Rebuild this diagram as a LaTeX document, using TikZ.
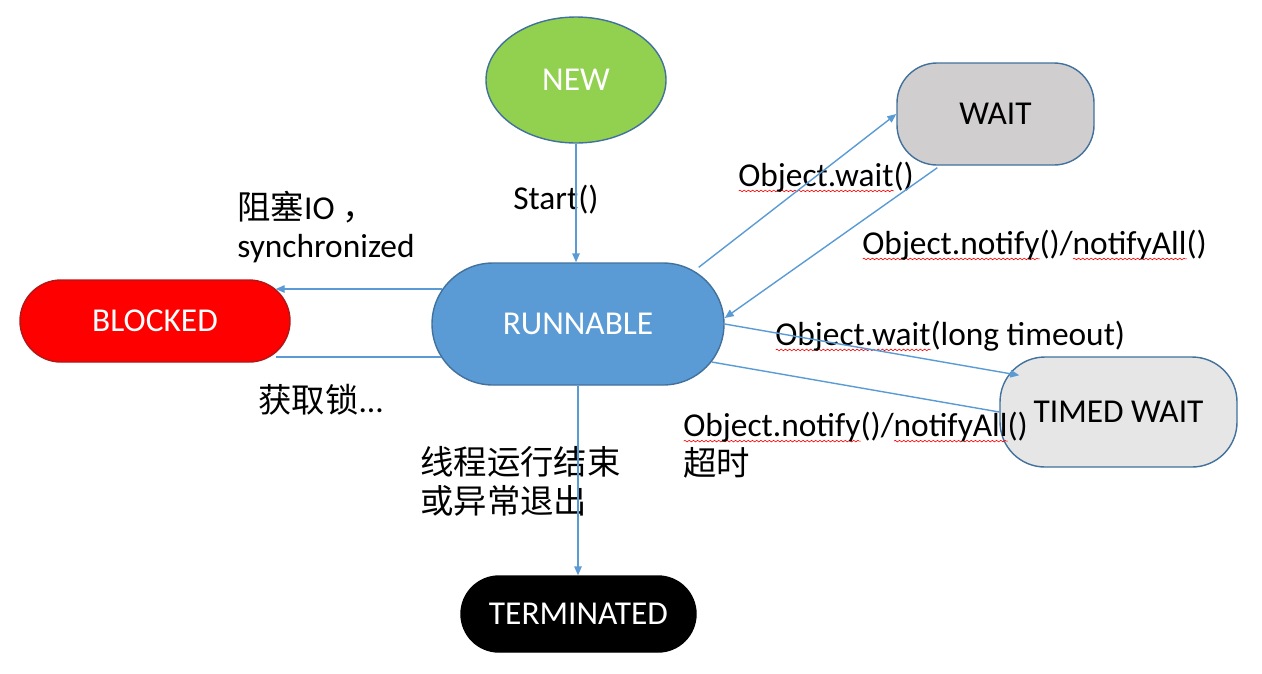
\documentclass[tikz,border=0pt]{standalone}
\usepackage{fontspec}
\setmainfont{Carlito}
\newfontfamily\cjk{Noto Sans CJK SC}
\usepackage{tikz}
\usetikzlibrary{arrows.meta,shapes.geometric,decorations.pathmorphing}

\definecolor{runblue}{HTML}{5B9BD5}
\definecolor{edgeblue}{HTML}{41719C}
\definecolor{newgreen}{HTML}{92D050}
\definecolor{waitgray}{HTML}{D0CECE}
\definecolor{timedgray}{HTML}{E7E6E6}
\definecolor{blockred}{HTML}{FF0000}
\definecolor{darkred}{HTML}{B01818}

\newsavebox\wavebox
\newcommand\spellwave[1]{\sbox\wavebox{#1}\rlap{\tikz[baseline=0pt]\draw[red,line width=0.35pt,decorate,decoration={snake,amplitude=0.45pt,segment length=2.4pt}] (0pt,-2.6pt) -- (\wd\wavebox,-2.6pt);}\usebox\wavebox}

\tikzset{
    threadstate/.style={draw=edgeblue,line width=0.8pt,inner sep=0pt,font=\fontsize{19}{23}\selectfont},
    trans/.style={draw=runblue,line width=0.8pt,-{Triangle[length=1.8mm,width=1.5mm]}},
    link/.style={draw=runblue,line width=0.8pt},
    lbl/.style={font=\fontsize{19}{22}\selectfont,align=left,inner sep=0pt,anchor=west}
}

\begin{document}
\begin{tikzpicture}[x=0.2mm,y=-0.2mm]
    \useasboundingbox (0,0) rectangle (1262,673);

    \node[threadstate,ellipse,fill=newgreen,text=white,minimum width=36mm,minimum height=25.2mm] (new) at (576,80) {NEW};
    \node[threadstate,fill=waitgray,rounded corners=8mm,minimum width=39.4mm,minimum height=20.4mm] (wait) at (995.5,114) {WAIT};
    \node[threadstate,fill=runblue,text=white,rounded corners=12.2mm,minimum width=58.4mm,minimum height=24.4mm] (run) at (578,324) {RUNNABLE};
    \node[threadstate,draw=darkred,fill=blockred,text=white,rounded corners=8.2mm,minimum width=54mm,minimum height=16.4mm] (blk) at (155,321) {BLOCKED};
    \node[threadstate,fill=timedgray,rounded corners=9mm,minimum width=47.4mm,minimum height=22mm] (tw) at (1118.5,412) {TIMED WAIT};
    \node[threadstate,draw=black,fill=black,text=white,rounded corners=7.6mm,minimum width=47mm,minimum height=15.2mm] (term) at (578.5,614) {TERMINATED};

    \node[lbl] (startlbl) at (513,200) {Start()};
    \node[lbl] (blocklbl) at (237,227) {{\cjk 阻塞}IO {\cjk ，}\\synchronized};
    \node[lbl] (locklbl) at (258,400) {{\cjk 获取锁}...};
    \node[lbl] (endlbl) at (420,481) {{\cjk 线程运行结束}\\{\cjk 或异常退出}};
    \node[lbl] (waitlbl) at (738,177) {\spellwave{Object.wait}()};
    \node[lbl] (notifylbl) at (862,245) {\spellwave{Object.notify}()/\spellwave{notifyAll}()};
    \node[lbl] (timedlbl) at (775,336) {\spellwave{Object.wait}(long timeout)};
    \node[lbl] (backlbl) at (683,445) {\spellwave{Object.notify}()/\spellwave{notifyAll}()\\{\cjk 超时}};

    \draw[trans] (new.south) -- (new.south |- run.north);
    \draw[trans] ([shift={(11,-35)}]run.west) -- ([shift={(-15,-32)}]blk.east);
    \draw[link] ([shift={(-15,36)}]blk.east) -- ([shift={(10,33)}]run.west);
    \draw[trans] ([shift={(-26,5)}]run.north east) -- (wait.west);
    \draw[trans] ([shift={(41,2)}]wait.south west) -- ([shift={(0,-6)}]run.east);
    \draw[trans] (run.east) -- ([shift={(20,19)}]tw.north west);
    \draw[link] ([shift={(-13,38)}]run.east) -- (tw.west);
    \draw[trans] (run.south) -- (run.south |- term.north);
\end{tikzpicture}
\end{document}
